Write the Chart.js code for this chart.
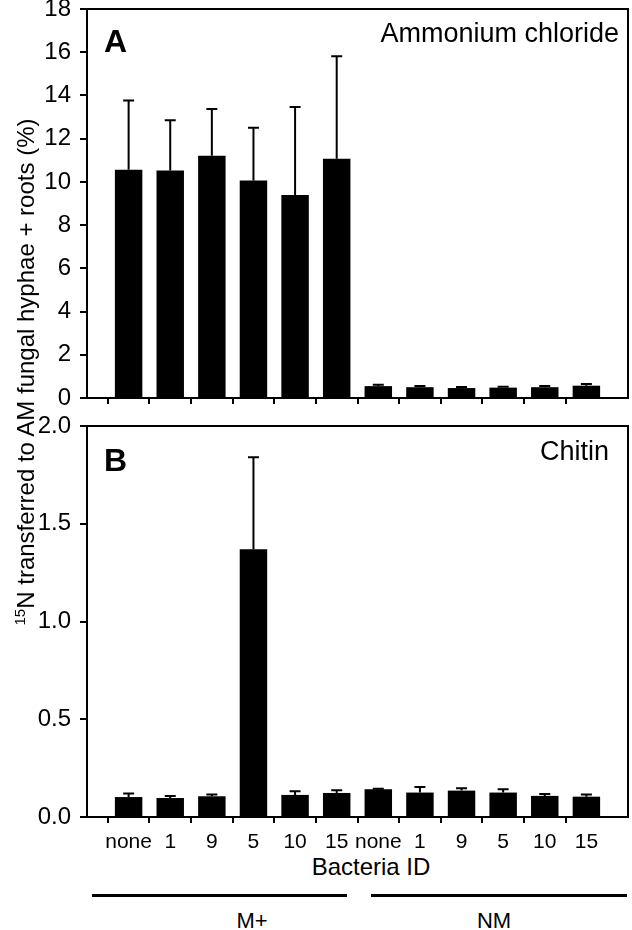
<!DOCTYPE html>
<html>
<head>
<meta charset="utf-8">
<script src="https://cdn.jsdelivr.net/npm/chart.js@4/dist/chart.umd.min.js"></script>
<style>
  html, body { margin: 0; padding: 0; background: #fff; }
  #root { position: relative; width: 632px; height: 930px; overflow: hidden;
          font-family: 'Liberation Sans', Arial, sans-serif; color: #000; }
  .wrap { position: absolute; left: 0; width: 632px; }
  #wA { top: 0; height: 420px; }
  #wB { top: 410px; height: 440px; }
  .txt { position: absolute; white-space: nowrap; text-align: center; }
  #ytitle { left: -274px; top: 360px; width: 600px; height: 24px; line-height: 24px;
            font-size: 24px; transform: rotate(-90deg); }
  #ytitle .sup { font-size: 15px; position: relative; top: -9px; }
  #xtitle { left: 221px; top: 855px; width: 300px; font-size: 24px; line-height: 24px; }
  .glabel { top: 910px; width: 120px; font-size: 22px; line-height: 22px; }
  .gline { position: absolute; height: 3px; top: 894px; background: #000; }
</style>
</head>
<body>
<div id="root">
  <div class="wrap" id="wA"><canvas id="chartA"></canvas></div>
  <div class="wrap" id="wB"><canvas id="chartB"></canvas></div>
  <div class="txt" id="ytitle"><span class="sup">15</span>N transferred to AM fungal hyphae + roots (%)</div>
  <div class="txt" id="xtitle">Bacteria ID</div>
  <div class="gline" style="left:92px;width:255px;"></div>
  <div class="gline" style="left:371px;width:256px;"></div>
  <div class="txt glabel" id="gM" style="left:192px;">M+</div>
  <div class="txt glabel" id="gN" style="left:434px;">NM</div>
</div>
<script>
// ---- data ----
const categories = ['none', '1', '9', '5', '10', '15', 'none', '1', '9', '5', '10', '15'];
const groupNames = ['M+', 'NM'];

const ammoniumMean = [10.56, 10.53, 11.21, 10.06, 9.39, 11.07, 0.55, 0.50, 0.46, 0.48, 0.50, 0.57];
const ammoniumErr  = [3.21, 2.32, 2.16, 2.45, 4.08, 4.74, 0.06, 0.05, 0.05, 0.04, 0.05, 0.08];

const chitinMean = [0.102, 0.097, 0.106, 1.37, 0.113, 0.123, 0.142, 0.125, 0.135, 0.125, 0.108, 0.104];
const chitinErr  = [0.018, 0.011, 0.009, 0.47, 0.019, 0.014, 0.003, 0.029, 0.012, 0.017, 0.010, 0.011];

const ammoniumTicks = [0, 2, 4, 6, 8, 10, 12, 14, 16, 18];
const chitinTicks = [0, 0.5, 1.0, 1.5, 2.0];

document.getElementById('gM').textContent = groupNames[0];
document.getElementById('gN').textContent = groupNames[1];

// ---- chart setup ----
Chart.defaults.font.family = "'Liberation Sans', Arial, sans-serif";
Chart.defaults.color = '#000';

const padLabels = ['', ...categories, ''];
const pad = arr => [null, ...arr, null];

const errorBarPlugin = {
  id: 'errorBars',
  afterDatasetsDraw(chart, args, opts) {
    const ctx = chart.ctx;
    const meta = chart.getDatasetMeta(0);
    const ys = chart.scales.y;
    const means = chart.data.datasets[0].data;
    const errs = opts.errors || [];
    ctx.save();
    ctx.strokeStyle = '#000';
    ctx.lineWidth = 2;
    meta.data.forEach((el, i) => {
      const m = means[i], e = errs[i];
      if (m == null || e == null) return;
      const yTop = ys.getPixelForValue(m + e);
      const x = el.x;
      ctx.beginPath();
      ctx.moveTo(x, el.y);
      ctx.lineTo(x, yTop);
      ctx.moveTo(x - 5.5, yTop);
      ctx.lineTo(x + 5.5, yTop);
      ctx.stroke();
    });
    ctx.restore();
  }
};

const framePlugin = {
  id: 'frame',
  afterDraw(chart, args, opts) {
    const { ctx, chartArea: a } = chart;
    ctx.save();
    ctx.strokeStyle = '#000';
    ctx.lineWidth = 2;
    ctx.strokeRect(a.left, a.top, a.right - a.left, a.bottom - a.top);
    ctx.fillStyle = '#000';
    ctx.textBaseline = 'alphabetic';
    ctx.font = "bold 32px 'Liberation Sans', Arial, sans-serif";
    ctx.textAlign = 'left';
    ctx.fillText(opts.letter, opts.letterX, opts.letterY);
    ctx.font = "27px 'Liberation Sans', Arial, sans-serif";
    ctx.textAlign = 'right';
    ctx.fillText(opts.title, opts.titleX, opts.titleY);
    ctx.restore();
  }
};

function buildPanel(canvasId, means, errs, yTicks, decimals, showXLabels, xAxisHeight, padTop, frameOpts) {
  return new Chart(document.getElementById(canvasId), {
    type: 'bar',
    data: {
      labels: padLabels,
      datasets: [{
        data: pad(means),
        backgroundColor: '#000',
        borderWidth: 0,
        barPercentage: 0.66,
        categoryPercentage: 1
      }]
    },
    options: {
      responsive: true,
      maintainAspectRatio: false,
      animation: false,
      layout: { padding: { top: padTop, right: 4, left: 0, bottom: 0 } },
      plugins: {
        legend: { display: false },
        tooltip: { enabled: false },
        errorBars: { errors: pad(errs) },
        frame: frameOpts
      },
      scales: {
        x: {
          type: 'category',
          offset: false,
          border: { display: false },
          grid: {
            drawOnChartArea: false,
            drawTicks: true,
            tickLength: 6,
            tickWidth: 2,
            lineWidth: 2,
            tickColor: c => (c.tick && c.tick.label === '') ? 'rgba(0,0,0,0)' : '#000'
          },
          ticks: {
            display: showXLabels,
            autoSkip: false,
            maxRotation: 0,
            minRotation: 0,
            padding: 7,
            font: { size: 21 },
            color: '#000'
          },
          afterFit: s => { s.height = xAxisHeight; s.paddingLeft = 0; s.paddingRight = 0; }
        },
        y: {
          min: yTicks[0],
          max: yTicks[yTicks.length - 1],
          border: { display: false },
          grid: {
            drawOnChartArea: false,
            tickLength: 7,
            tickWidth: 2,
            lineWidth: 2,
            tickColor: '#000'
          },
          ticks: {
            padding: 9,
            font: { size: 24 },
            color: '#000',
            callback: v => Number(v).toFixed(decimals)
          },
          afterBuildTicks: s => { s.ticks = yTicks.map(v => ({ value: v })); },
          afterFit: s => { s.width = 87; s.paddingTop = 0; s.paddingBottom = 0; }
        }
      }
    },
    plugins: [errorBarPlugin, framePlugin]
  });
}

buildPanel('chartA', ammoniumMean, ammoniumErr, ammoniumTicks, 0, false, 22, 9,
  { letter: 'A', letterX: 104, letterY: 52, title: 'Ammonium chloride', titleX: 619, titleY: 42 });
buildPanel('chartB', chitinMean, chitinErr, chitinTicks, 1, true, 33, 16,
  { letter: 'B', letterX: 104, letterY: 61, title: 'Chitin', titleX: 609, titleY: 50 });
</script>
</body>
</html>
